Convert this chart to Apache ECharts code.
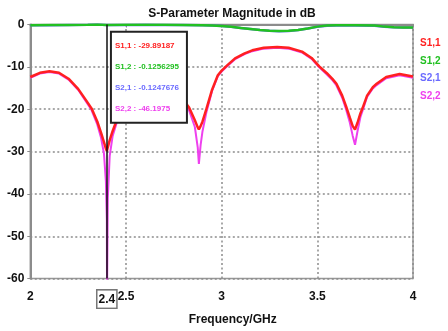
<!DOCTYPE html>
<html>
<head>
<meta charset="utf-8">
<script src="https://cdn.jsdelivr.net/npm/echarts@6/dist/echarts.min.js"></script>
<style>
  html, body { margin: 0; padding: 0; background: #fff; }
  #chart { width: 448px; height: 331px; }
</style>
</head>
<body>
<div id="chart"></div>
<script>
// S11 / S22 sampled on the same frequency grid (GHz)
const freq = [2.00, 2.05, 2.10, 2.15, 2.20, 2.25, 2.29, 2.32, 2.35, 2.37, 2.385, 2.395, 2.40, 2.401, 2.405, 2.415,
  2.43, 2.45, 2.47, 2.52, 2.58, 2.64, 2.70, 2.76, 2.80, 2.83, 2.86, 2.875, 2.881, 2.89, 2.90, 2.92, 2.95, 2.98,
  3.00, 3.03, 3.07, 3.12, 3.16, 3.22, 3.29, 3.35, 3.42, 3.47, 3.51, 3.55, 3.58, 3.60, 3.63, 3.65, 3.67, 3.685,
  3.697, 3.71, 3.725, 3.736, 3.76, 3.79, 3.81, 3.86, 3.93, 4.00];
const s11 = [-12.4, -11.4, -11.05, -11.4, -12.8, -15.2, -17.8, -19.8, -22.9, -25.6, -27.8, -29.3, -29.9, -29.7, -29.0, -27.3,
  -25.2, -22.8, -20.8, -17.0, -14.6, -13.8, -14.3, -16.0, -17.8, -19.6, -22.6, -24.3, -24.8, -24.0, -22.9, -20.0, -15.4, -12.0,
  -10.9, -9.6, -8.0, -6.8, -6.1, -5.5, -5.3, -5.5, -6.4, -7.9, -9.9, -11.5, -12.9, -14.0, -16.8, -19.3, -22.0, -24.0,
  -24.8, -23.2, -21.0, -19.8, -16.8, -14.8, -14.0, -12.4, -11.7, -12.3];
const s22 = [-12.6, -11.6, -11.2, -11.6, -13.0, -15.4, -18.1, -20.2, -23.6, -26.8, -30.5, -37.0, -46.2, -64.0, -41.0, -31.0,
  -26.4, -23.4, -21.2, -17.3, -14.8, -14.0, -14.5, -16.3, -18.2, -20.3, -24.2, -29.0, -32.9, -28.5, -25.2, -20.8, -15.7, -12.2,
  -11.1, -9.8, -8.2, -7.0, -6.3, -5.7, -5.5, -5.7, -6.6, -8.1, -10.1, -11.8, -13.2, -14.4, -17.3, -20.0, -23.2, -26.3,
  -28.4, -25.2, -21.9, -20.4, -17.1, -15.1, -14.3, -12.7, -12.0, -12.6];

// S12 / S21 (transmission, close to 0 dB)
const tFreq = [2.00, 2.10, 2.20, 2.30, 2.35, 2.40, 2.50, 2.60, 2.70, 2.80, 2.90, 2.95, 3.00, 3.05, 3.10, 3.15,
  3.20, 3.25, 3.30, 3.35, 3.40, 3.45, 3.50, 3.55, 3.60, 3.70, 3.80, 3.85, 3.90, 3.95, 4.00];
const s12 = [-0.15, -0.12, -0.1, -0.05, 0, -0.13, -0.08, -0.07, -0.08, -0.1, -0.15, -0.22, -0.35, -0.55, -0.8, -1.05,
  -1.3, -1.45, -1.55, -1.5, -1.3, -0.95, -0.5, -0.25, -0.2, -0.2, -0.25, -0.5, -0.65, -0.7, -0.7];
const s21 = [-0.2, -0.15, -0.1, -0.06, -0.02, -0.125, -0.09, -0.08, -0.1, -0.12, -0.16, -0.23, -0.36, -0.56, -0.82, -1.07,
  -1.32, -1.47, -1.57, -1.52, -1.32, -0.97, -0.52, -0.27, -0.22, -0.22, -0.28, -0.52, -0.67, -0.72, -0.72];

const names = ["S1,1", "S1,2", "S2,1", "S2,2"];
const colors = ["#ff2020", "#22c022", "#6a6aff", "#ee40ee"];

// marker readout at 2.4 GHz
const markerFreq = 2.4;
const markerValues = ["-29.89187", "-0.1256295", "-0.1247676", "-46.1975"];

const xLabels = [2, 2.4, 2.5, 3, 3.5, 4];

const zip = (xs, ys) => xs.map((x, i) => [x, ys[i]]);

const font = "Liberation Sans, Arial, sans-serif";
const gray = "#8c8c8c";

const chart = echarts.init(document.getElementById("chart"));

// text of the marker box
const tipText = names.map((n, i) => `{c${i}|${n} : ${markerValues[i]}}`).join("\n");
const tipRich = {};
colors.forEach((c, i) => {
  tipRich["c" + i] = { color: c, fontSize: 8, fontWeight: "bold", fontFamily: font, lineHeight: 21 };
});

const lineSeries = (idx, data, width, extra) => Object.assign({
  name: names[idx],
  type: "line",
  data: data,
  showSymbol: false,
  symbol: "none",
  lineStyle: { color: colors[idx], width: width },
  itemStyle: { color: colors[idx] },
  animation: false,
}, extra || {});

chart.setOption({
  animation: false,
  title: {
    text: "S-Parameter Magnitude in dB",
    left: 227,
    textAlign: "center",
    top: 3,
    textStyle: { fontSize: 12, fontWeight: "bold", color: "#111", fontFamily: font },
  },
  legend: {
    orient: "vertical",
    left: 410,
    top: 31,
    itemWidth: 0,
    itemHeight: 14,
    itemGap: 5.8,
    icon: "none",
    selectedMode: false,
    textStyle: { fontSize: 10, fontWeight: "bold", fontFamily: font },
    data: names.map((n, i) => ({ name: n, textStyle: { color: colors[i] } })),
  },
  grid: {
    left: 30.3, right: 35, top: 24.5, bottom: 46.7,
    show: true, borderColor: "#999", borderWidth: 1.5, backgroundColor: "#fff",
  },
  xAxis: {
    type: "value",
    min: 2, max: 4, interval: 0.5,
    name: "Frequency/GHz",
    nameLocation: "middle",
    nameGap: 29,
    nameTextStyle: { fontSize: 12, fontWeight: "bold", color: "#111", fontFamily: font, padding: [0, 0, 0, 22] },
    axisLine: { lineStyle: { color: gray, width: 2 } },
    axisTick: { show: true, length: 3, lineStyle: { color: gray } },
    axisLabel: {
      customValues: xLabels,
      margin: 12,
      fontSize: 12, fontWeight: "bold", color: "#111", fontFamily: font,
      formatter: (v) => (Math.abs(v - markerFreq) < 1e-9 ? `{box|${v}}` : `${v}`),
      rich: {
        box: {
          fontSize: 12, fontWeight: "bold", color: "#111", fontFamily: font,
          borderColor: "#777", borderWidth: 1.5, padding: [3, 1, 2, 1], backgroundColor: "#fff",
        },
      },
    },
    splitLine: { show: true, lineStyle: { color: gray, width: 1.5, type: [2, 2.5] } },
  },
  yAxis: {
    type: "value",
    min: -60, max: 0, interval: 10,
    axisLine: { show: true, lineStyle: { color: gray, width: 2 } },
    axisTick: { show: true, length: 3, lineStyle: { color: gray } },
    axisLabel: { margin: 6, fontSize: 12, fontWeight: "bold", color: "#111", fontFamily: font },
    splitLine: { show: true, lineStyle: { color: gray, width: 1.5, type: [2, 2.5] } },
  },
  series: [
    lineSeries(3, zip(freq, s22), 2),
    lineSeries(2, zip(tFreq, s21), 2.5),
    lineSeries(1, zip(tFreq, s12), 2.5),
    lineSeries(0, zip(freq, s11), 2.5, {
      markLine: {
        silent: true,
        symbol: "none",
        label: { show: false },
        lineStyle: { color: "#111", width: 1.5, type: "solid" },
        data: [[{ coord: [markerFreq, -60] }, { coord: [markerFreq, 0] }]],
      },
      markPoint: {
        silent: true,
        symbol: "rect",
        symbolSize: 0,
        data: [{ coord: [2.4266, -1.97] }],
        label: {
          show: true,
          position: [0, 0],
          formatter: tipText,
          rich: tipRich,
          backgroundColor: "#fff",
          borderColor: "#222",
          borderWidth: 2,
          padding: [2, 3, 3, 3],
          width: 68,
        },
      },
    }),
  ],
});
</script>
</body>
</html>
